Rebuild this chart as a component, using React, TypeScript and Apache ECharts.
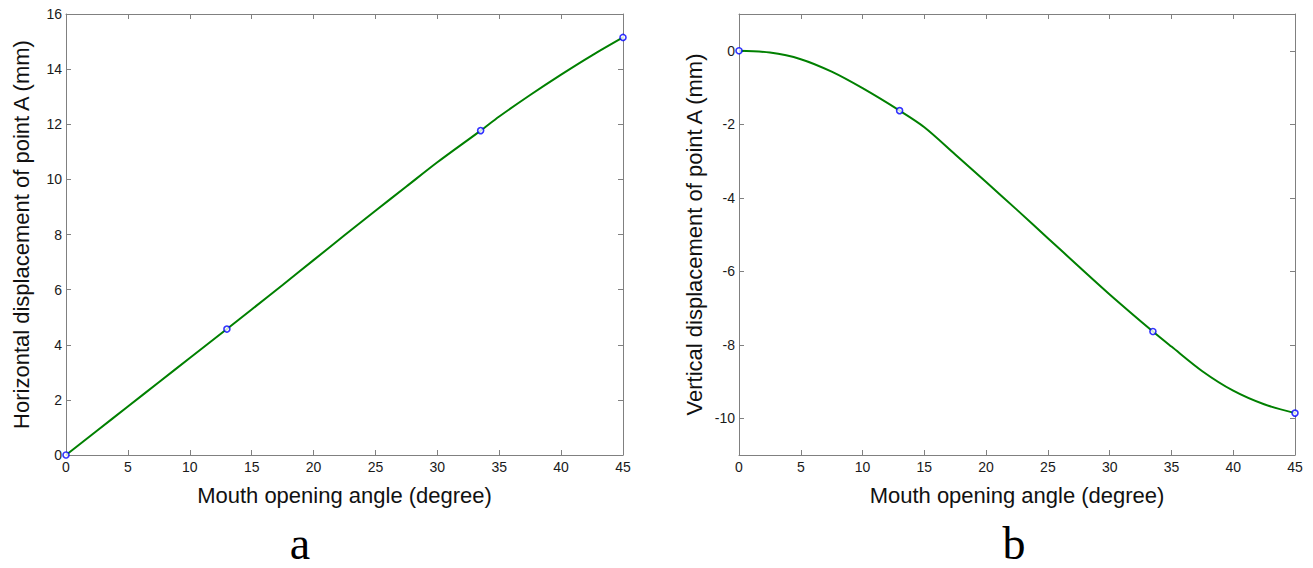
import React, { useEffect, useRef } from "react";
import * as echarts from "echarts";

// ---- data ----
const angles = [0, 2.5, 5, 7.5, 10, 13, 15, 17.5, 20, 22.5, 25, 27.5, 30, 33.5, 35, 37.5, 40, 42.5, 45];
const horizontal = [0, 0.88, 1.76, 2.64, 3.52, 4.57, 5.28, 6.17, 7.07, 7.97, 8.86, 9.74, 10.62, 11.77, 12.28, 13.06, 13.8, 14.5, 15.15];
const vertical = [0, -0.05, -0.23, -0.57, -1.02, -1.63, -2.08, -2.82, -3.57, -4.33, -5.1, -5.87, -6.63, -7.64, -8.05, -8.72, -9.25, -9.62, -9.86];

const markerAngles = [0, 13, 33.5, 45];
const markerHorizontal = [0, 4.57, 11.77, 15.15];
const markerVertical = [0, -1.63, -7.64, -9.86];

const xTicks = [0, 5, 10, 15, 20, 25, 30, 35, 40, 45];
const leftYTicks = [0, 2, 4, 6, 8, 10, 12, 14, 16];
const rightYTicks = [-10, -8, -6, -4, -2, 0];

const xName = "Mouth opening angle (degree)";
const leftYName = "Horizontal displacement of point A (mm)";
const rightYName = "Vertical displacement of point A (mm)";
const panelLetters = ["a", "b"];

const FONT = '"Liberation Sans", Arial, Helvetica, sans-serif';
const SERIF = '"Liberation Serif", "Times New Roman", Times, serif';
const AXIS = "#808080";
const LABEL = "#1a1a1a";
const LINE = "#008000";
const MARK = "#0000ff";

function xAxisDef(gridIndex: number, position: "bottom" | "top", main: boolean) {
  return {
    type: "value",
    gridIndex,
    position,
    min: 0,
    max: 45,
    axisLine: { show: true, onZero: false, lineStyle: { color: AXIS, width: 1 } },
    axisTick: { show: true, inside: true, length: 5, customValues: xTicks, lineStyle: { color: AXIS, width: 1 } },
    axisLabel: {
      show: main,
      customValues: xTicks,
      margin: 5,
      fontSize: 14,
      color: LABEL,
      fontFamily: FONT,
      showMinLabel: true,
      showMaxLabel: true,
    },
    splitLine: { show: false },
    name: main ? xName : "",
    nameLocation: "middle",
    nameGap: 29,
    nameTextStyle: { fontSize: 22, color: "#111", fontFamily: FONT },
  };
}

function yAxisDef(
  gridIndex: number,
  position: "left" | "right",
  main: boolean,
  min: number,
  max: number,
  ticks: number[],
  name: string
) {
  return {
    type: "value",
    gridIndex,
    position,
    min,
    max,
    axisLine: { show: true, onZero: false, lineStyle: { color: AXIS, width: 1 } },
    axisTick: { show: true, inside: true, length: 5, customValues: ticks, lineStyle: { color: AXIS, width: 1 } },
    axisLabel: {
      show: main,
      customValues: ticks,
      margin: 4,
      fontSize: 14,
      color: LABEL,
      fontFamily: FONT,
      showMinLabel: true,
      showMaxLabel: true,
    },
    splitLine: { show: false },
    name: main ? name : "",
    nameLocation: "middle",
    nameGap: 34,
    nameTextStyle: { fontSize: 22, color: "#111", fontFamily: FONT },
  };
}

export default function App() {
  const ref = useRef<HTMLDivElement>(null);

  useEffect(() => {
    if (!ref.current) return;
    const chart = echarts.init(ref.current, undefined, { renderer: "svg" });

    const hLine = angles.map((a, i) => [a, horizontal[i]]);
    const vLine = angles.map((a, i) => [a, vertical[i]]);
    const hMarks = markerAngles.map((a, i) => [a, markerHorizontal[i]]);
    const vMarks = markerAngles.map((a, i) => [a, markerVertical[i]]);

    const lineSeries = (data: number[][], xi: number, yi: number) => ({
      type: "line",
      xAxisIndex: xi,
      yAxisIndex: yi,
      data,
      smooth: 0.3,
      showSymbol: false,
      symbol: "none",
      lineStyle: { color: LINE, width: 2 },
      clip: false,
      z: 2,
    });
    const markSeries = (data: number[][], xi: number, yi: number) => ({
      type: "scatter",
      xAxisIndex: xi,
      yAxisIndex: yi,
      data,
      symbol: "circle",
      symbolSize: 6,
      itemStyle: { color: "#ffffff", borderColor: MARK, borderWidth: 1.6 },
      clip: false,
      z: 3,
    });

    const letter = (text: string, x: number) => ({
      type: "text",
      x,
      y: 543,
      style: {
        text,
        font: `46px ${SERIF}`,
        lineHeight: 44,
        fill: "#000",
        textAlign: "center",
        textVerticalAlign: "middle",
        align: "center",
        verticalAlign: "middle",
      },
    });

    chart.setOption({
      animation: false,
      backgroundColor: "#ffffff",
      grid: [
        { left: 66, top: 14, width: 557, height: 441, containLabel: false, outerBoundsMode: "none" },
        { left: 739, top: 14, width: 556, height: 441, containLabel: false, outerBoundsMode: "none" },
      ],
      xAxis: [
        xAxisDef(0, "bottom", true),
        xAxisDef(0, "top", false),
        xAxisDef(1, "bottom", true),
        xAxisDef(1, "top", false),
      ],
      yAxis: [
        yAxisDef(0, "left", true, 0, 16, leftYTicks, leftYName),
        yAxisDef(0, "right", false, 0, 16, leftYTicks, leftYName),
        yAxisDef(1, "left", true, -11, 1, rightYTicks, rightYName),
        yAxisDef(1, "right", false, -11, 1, rightYTicks, rightYName),
      ],
      series: [
        lineSeries(hLine, 0, 0),
        markSeries(hMarks, 0, 0),
        lineSeries(vLine, 2, 2),
        markSeries(vMarks, 2, 2),
      ],
      graphic: [letter(panelLetters[0], 300), letter(panelLetters[1], 1014)],
    });

    return () => chart.dispose();
  }, []);

  return (
    <div
      ref={ref}
      style={{ position: "fixed", left: 0, top: 0, width: 1313, height: 568, background: "#fff" }}
    />
  );
}
